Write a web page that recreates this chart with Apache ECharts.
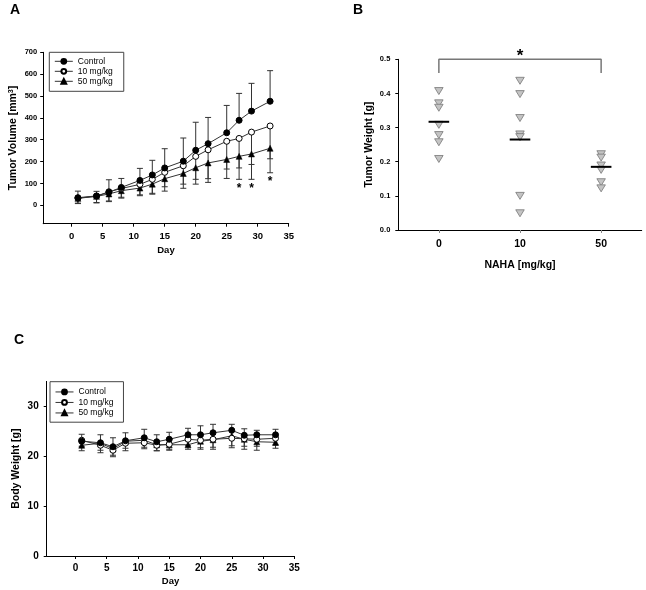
<!DOCTYPE html>
<html>
<head>
<meta charset="utf-8">
<script src="https://cdn.jsdelivr.net/npm/echarts@6/dist/echarts.min.js"></script>
<style>
html,body{margin:0;padding:0;background:#fff;}
#c{width:646px;height:590px;}
</style>
</head>
<body>
<div id="c"></div>
<script>
// ---------- Data ----------
var days = [1, 4, 6, 8, 11, 13, 15, 18, 20, 22, 25, 27, 29, 32];
var seriesNames = ['Control', '10 mg/kg', '50 mg/kg'];

// Panel A: tumor volume (mm^3)
var volCtrl = [35, 43, 60, 82, 114, 139, 171, 202, 252, 282, 332, 389, 431, 476];
var vol10   = [33, 42, 62, 77, 96, 119, 151, 181, 224, 254, 293, 306, 335, 363];
var vol50   = [32, 41, 52, 67, 79, 97, 122, 146, 172, 194, 210, 224, 235, 261];
var volCtrlErr = [30, 21, 57, 41, 55, 67, 88, 106, 128, 120, 125, 123, 127, 140];
var vol10Err   = [23, 29, 42, 40, 48, 64, 66, 84, 105, 132, 127, 135, 148, 150];
var vol50Err   = [24, 30, 35, 34, 35, 46, 57, 68, 75, 89, 87, 105, 116, 112];
var volStarDays = [27, 29, 32];
var volStarVals = [90, 90, 123];

// Panel B: tumor weight (g)
var doseLabels = ['0', '10', '50'];
var weight0  = [0.407, 0.371, 0.358, 0.308, 0.278, 0.257, 0.208];
var weight10 = [0.437, 0.398, 0.328, 0.280, 0.272, 0.100, 0.049];
var weight50 = [0.222, 0.212, 0.189, 0.176, 0.140, 0.122];
var weightMeans = [0.317, 0.265, 0.185];
var bracketX = [0, 0, 2, 2];
var bracketY = [0.46, 0.5, 0.5, 0.46];
var sigStarX = 1, sigStarY = 0.522;

// Panel C: body weight (g)
var bwCtrl = [23.0, 22.7, 21.9, 23.1, 23.7, 22.9, 23.4, 24.3, 24.3, 24.7, 25.2, 24.2, 24.3, 24.3];
var bw10   = [23.2, 22.2, 21.2, 22.6, 22.7, 22.2, 22.4, 23.4, 23.2, 23.4, 23.6, 23.5, 23.4, 23.6];
var bw50   = [22.2, 22.6, 21.5, 23.0, 23.2, 22.3, 22.3, 22.3, 23.0, 23.3, 24.1, 23.4, 22.9, 22.8];
var bwCtrlErr = [1.4, 1.6, 1.8, 1.6, 1.7, 1.4, 1.4, 1.3, 1.8, 1.7, 1.2, 1.3, 0.9, 1.1];
var bw10Err   = [1.2, 1.0, 1.0, 1.0, 1.2, 1.1, 1.0, 1.3, 1.5, 1.6, 1.5, 1.5, 1.4, 1.4];
var bw50Err   = [1.1, 1.9, 1.6, 1.9, 1.4, 1.2, 1.1, 0.9, 1.6, 1.9, 2.4, 2.0, 1.7, 1.2];

// Tick values
var dayTicks = [0, 5, 10, 15, 20, 25, 30, 35];
var volTicks = [0, 100, 200, 300, 400, 500, 600, 700];
var weightTicks = [0, 0.1, 0.2, 0.3, 0.4, 0.5];
var doseTicks = [0, 1, 2];
var bwTicks = [0, 10, 20, 30];

// ---------- Helpers ----------
var FONT = 'Liberation Sans, Arial, sans-serif';
var chart = echarts.init(document.getElementById('c'), null, {renderer: 'canvas'});

function pairs(xs, ys) { return xs.map(function (x, i) { return [x, ys[i]]; }); }
function errData(vals, errs, dir) {
  return days.map(function (d, i) { return [d, vals[i], vals[i] + dir * errs[i]]; });
}
function errRender(params, api) {
  var x = api.value(0), from = api.value(1), to = api.value(2);
  var p1 = api.coord([x, from]);
  var p2 = api.coord([x, to]);
  var w = 3;
  var st = {stroke: '#333', lineWidth: 1};
  return {type: 'group', children: [
    {type: 'line', shape: {x1: p1[0], y1: p1[1], x2: p2[0], y2: p2[1]}, style: st},
    {type: 'line', shape: {x1: p2[0] - w, y1: p2[1], x2: p2[0] + w, y2: p2[1]}, style: st}
  ]};
}
function meanRender(params, api) {
  var x = api.value(0), m = api.value(1);
  var a = api.coord([x - 0.127, m]);
  var b = api.coord([x + 0.127, m]);
  return {type: 'line', shape: {x1: a[0], y1: a[1], x2: b[0], y2: b[1]}, style: {stroke: '#000', lineWidth: 2}};
}
function starRender(size) {
  return function (params, api) {
    var p = api.coord([api.value(0), api.value(1)]);
    return {type: 'text', x: p[0], y: p[1] + size * 0.25,
      style: {text: '*', fill: '#000', font: 'bold ' + size + 'px ' + FONT, align: 'center', verticalAlign: 'middle'}};
  };
}
function valAxis(o) {
  var base = {
    type: 'value',
    splitLine: {show: false},
    axisLine: {show: true, onZero: false, lineStyle: {color: '#000', width: 1}},
    axisTick: {show: true, length: 3, lineStyle: {color: o.tickColor || '#000'}, customValues: o.ticks},
    axisLabel: {customValues: o.ticks, color: '#000', fontFamily: FONT, fontWeight: 'bold', fontSize: o.fs, margin: o.margin, formatter: o.fmt},
    nameLocation: 'middle',
    nameTextStyle: {color: '#000', fontFamily: FONT, fontWeight: 'bold', fontSize: o.nfs, rich: o.rich}
  };
  for (var k in o) { if (['ticks', 'fs', 'margin', 'fmt', 'nfs', 'rich', 'tickColor'].indexOf(k) < 0) base[k] = o[k]; }
  return base;
}
var lineStyles = [
  {symbol: 'circle', itemStyle: {color: '#000', borderColor: '#000', borderWidth: 1}},
  {symbol: 'circle', itemStyle: {color: '#fff', borderColor: '#000', borderWidth: 1}},
  {symbol: 'triangle', itemStyle: {color: '#000', borderColor: '#000', borderWidth: 0.5}}
];
function lineSeries(name, idx, axisIdx, vals, z) {
  return {
    type: 'line', name: name, xAxisIndex: axisIdx, yAxisIndex: axisIdx,
    data: pairs(days, vals), symbol: lineStyles[idx].symbol, symbolSize: 6,
    itemStyle: lineStyles[idx].itemStyle,
    lineStyle: {color: '#333', width: 1}, z: z, animation: false
  };
}
function errSeries(axisIdx, vals, errs, dir) {
  return {type: 'custom', xAxisIndex: axisIdx, yAxisIndex: axisIdx, renderItem: errRender,
    data: errData(vals, errs, dir), z: 1, silent: true, animation: false};
}

var legendCommon = {
  orient: 'vertical', selectedMode: false, data: seriesNames,
  itemWidth: 18, itemHeight: 6, itemGap: 0,
  lineStyle: {width: 1, color: '#333'},
  borderColor: '#444', borderWidth: 1, borderRadius: 0,
  textStyle: {fontFamily: FONT, fontSize: 8.5, color: '#000', lineHeight: 10}
};

var option = {
  animation: false,
  backgroundColor: '#fff',
  textStyle: {fontFamily: FONT},
  grid: [
    {left: 43.2, top: 52.3, width: 245.5, height: 171.4},
    {left: 398.3, top: 59.3, width: 243.4, height: 170.7},
    {left: 46.7, top: 381.4, width: 247.6, height: 174.6}
  ],
  legend: [
    Object.assign({}, legendCommon, {left: 49.3, top: 52.3, padding: [4, 11, 5, 5]}),
    Object.assign({}, legendCommon, {left: 50, top: 381.7, padding: [5, 10, 4, 5],
      textStyle: {fontFamily: FONT, fontSize: 8.5, color: '#000', lineHeight: 10.5}})
  ],
  xAxis: [
    valAxis({gridIndex: 0, min: -4.6, max: 35, ticks: dayTicks, fs: 9.5, margin: 8,
      name: 'Day', nameGap: 22, nfs: 9.5}),
    valAxis({gridIndex: 1, min: -0.5, max: 2.5, ticks: doseTicks, fs: 10.5, margin: 9, tickColor: '#888',
      fmt: function (v) { return doseLabels[Math.round(v)]; },
      name: 'NAHA [mg/kg]', nameGap: 30, nfs: 10.5}),
    valAxis({gridIndex: 2, min: -4.6, max: 35, ticks: dayTicks, fs: 10, margin: 7,
      name: 'Day', nameGap: 20, nfs: 9.5})
  ],
  yAxis: [
    valAxis({gridIndex: 0, min: -84, max: 700, ticks: volTicks, fs: 7.5, margin: 6,
      name: 'Tumor Volume [mm{sup|3}]', nameGap: 25, nfs: 10.5,
      rich: {sup: {fontSize: 7, fontWeight: 'bold', fontFamily: FONT, color: '#000', verticalAlign: 'top'}}}),
    valAxis({gridIndex: 1, min: 0, max: 0.5, ticks: weightTicks, fs: 7.5, margin: 8,
      fmt: function (v) { return v.toFixed(1); },
      name: 'Tumor Weight [g]', nameGap: 24, nfs: 10.5}),
    valAxis({gridIndex: 2, min: 0, max: 35, ticks: bwTicks, fs: 10, margin: 8,
      name: 'Body Weight [g]', nameGap: 25, nfs: 10.5})
  ],
  graphic: [
    {type: 'text', left: 10, top: 3, style: {text: 'A', font: 'bold 14px ' + FONT, fill: '#000'}},
    {type: 'text', left: 353, top: 3, style: {text: 'B', font: 'bold 14px ' + FONT, fill: '#000'}},
    {type: 'text', left: 14, top: 333, style: {text: 'C', font: 'bold 14px ' + FONT, fill: '#000'}}
  ],
  series: [
    // Panel A
    errSeries(0, volCtrl, volCtrlErr, 1),
    errSeries(0, vol10, vol10Err, -1),
    errSeries(0, vol50, vol50Err, -1),
    lineSeries(seriesNames[0], 0, 0, volCtrl, 5),
    lineSeries(seriesNames[1], 1, 0, vol10, 4),
    lineSeries(seriesNames[2], 2, 0, vol50, 3),
    {type: 'custom', xAxisIndex: 0, yAxisIndex: 0, data: pairs(volStarDays, volStarVals),
      renderItem: starRender(12), silent: true, clip: false, z: 6},
    // Panel B
    {type: 'line', xAxisIndex: 1, yAxisIndex: 1, data: pairs(bracketX, bracketY), symbol: 'none',
      lineStyle: {color: '#777', width: 1.5}, silent: true, clip: false},
    {type: 'custom', xAxisIndex: 1, yAxisIndex: 1, data: [[sigStarX, sigStarY]],
      renderItem: starRender(17), silent: true, clip: false, z: 6},
    {type: 'scatter', xAxisIndex: 1, yAxisIndex: 1,
      data: weight0.map(function (v) { return [0, v]; })
        .concat(weight10.map(function (v) { return [1, v]; }))
        .concat(weight50.map(function (v) { return [2, v]; })),
      symbol: 'triangle', symbolRotate: 180, symbolSize: [8.5, 7],
      itemStyle: {color: '#c4c4c4', borderColor: '#777', borderWidth: 0.8, opacity: 1}, z: 2},
    {type: 'custom', xAxisIndex: 1, yAxisIndex: 1, renderItem: meanRender,
      data: weightMeans.map(function (m, i) { return [i, m]; }), z: 5, silent: true},
    // Panel C
    errSeries(2, bwCtrl, bwCtrlErr, 1),
    errSeries(2, bw10, bw10Err, -1),
    errSeries(2, bw50, bw50Err, -1),
    lineSeries(seriesNames[0], 0, 2, bwCtrl, 5),
    lineSeries(seriesNames[1], 1, 2, bw10, 4),
    lineSeries(seriesNames[2], 2, 2, bw50, 3)
  ]
};
chart.setOption(option);
</script>
</body>
</html>
